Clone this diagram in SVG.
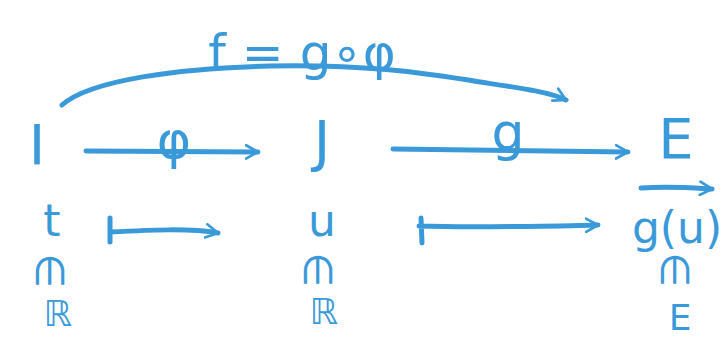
<svg xmlns="http://www.w3.org/2000/svg" width="725" height="341" viewBox="0 0 725 341">
<defs>
<style>
.s{fill:none;stroke:#3a9ad9;stroke-width:5;stroke-linecap:round;stroke-linejoin:round}
.t{fill:#3a9ad9;font-family:"DejaVu Sans",sans-serif;text-anchor:middle}
</style>
<marker id="ah" viewBox="0 0 12 12" refX="10" refY="6" markerWidth="3.2" markerHeight="3.2" orient="auto" markerUnits="strokeWidth">
<path d="M1,1 L10,6 L1,11" fill="none" stroke="#3a9ad9" stroke-width="2" stroke-linecap="round" stroke-linejoin="round"/>
</marker>
</defs>
<rect width="725" height="341" fill="#fff"/>
<g id="connectors">
<path class="s" d="M86,151 L258,152" marker-end="url(#ah)"/>
<path class="s" d="M393,149 L628,152" marker-end="url(#ah)"/>
<path class="s" d="M62,105 C90,80 180,68 270,66 C360,64 420,72 480,82 C520,88 550,92 566,100" marker-end="url(#ah)"/>
<path class="s" d="M110,218 L110,242 M110,232 C150,230 190,228 218,233" marker-end="url(#ah)"/>
<path class="s" d="M421,218 L422,243 M419,226 C480,228 550,226 598,225" marker-end="url(#ah)"/>
<path class="s" d="M641,188 C670,186 695,188 712,189" marker-end="url(#ah)"/>
</g>
<g id="node-I"><text class="t" x="37" y="164" font-size="56">I</text></g>
<g id="node-J"><text class="t" x="322" y="160" font-size="56">J</text></g>
<g id="node-E"><text class="t" x="676" y="158" font-size="56">E</text></g>
<g id="label-phi"><text class="t" x="174" y="158" font-size="52">φ</text></g>
<g id="label-g"><text class="t" x="508" y="150" font-size="52">g</text></g>
<g id="label-f"><text class="t" x="302" y="70" font-size="50">f = g∘φ</text></g>
<g id="node-t"><text class="t" x="52" y="236" font-size="44">t</text>
<text class="t" font-size="40" transform="translate(50,271) rotate(90)" dy="14">∈</text>
<text class="t" x="58" y="326" font-size="36">ℝ</text></g>
<g id="node-u"><text class="t" x="322" y="236" font-size="44">u</text>
<text class="t" font-size="40" transform="translate(318,270) rotate(90)" dy="14">∈</text>
<text class="t" x="324" y="324" font-size="36">ℝ</text></g>
<g id="node-gu"><text class="t" x="677" y="243" font-size="44">g(u)</text>
<text class="t" font-size="40" transform="translate(675,270) rotate(90)" dy="14">∈</text>
<text class="t" x="680" y="330" font-size="36">E</text></g>
</svg>
